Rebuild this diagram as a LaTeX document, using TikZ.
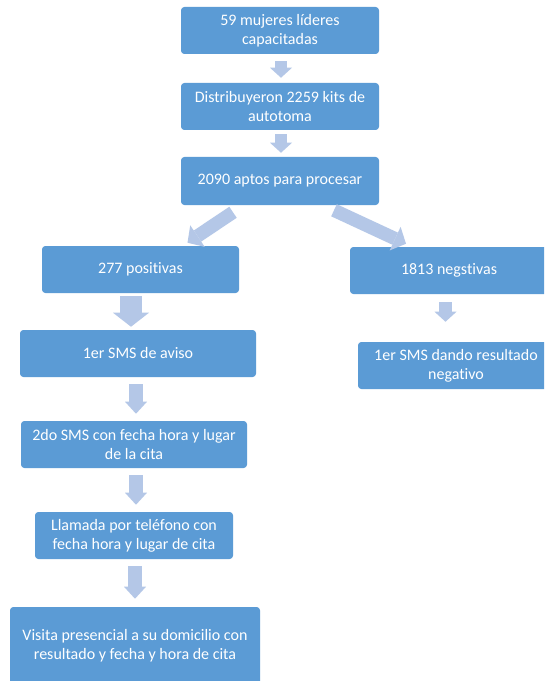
\documentclass[tikz,border=0pt]{standalone}
\usepackage{fontspec}
\setmainfont{Carlito}[Ligatures=NoCommon]
\usetikzlibrary{arrows.meta,calc}
\definecolor{boxblue}{HTML}{5B9BD5}
\definecolor{arrowblue}{HTML}{B4C7E7}
\tikzset{
  x=0.75pt, y=-0.75pt,
  box/.style={fill=boxblue, rounded corners=2.5pt, text=white, align=center,
    font=\fontsize{12pt}{14.4pt}\selectfont, inner sep=0pt},
  barrow/.style={draw=arrowblue, line width=9.5pt,
    -{Triangle[width=16.5pt,length=7.5pt,line width=0pt,fill=arrowblue]}},
  tallarrow/.style={draw=arrowblue, line width=10.5pt,
    -{Triangle[width=16.5pt,length=9pt,line width=0pt,fill=arrowblue]}},
  bigarrow/.style={draw=arrowblue, line width=17pt,
    -{Triangle[width=27pt,length=10.5pt,line width=0pt,fill=arrowblue]}},
  diagarrow/.style={draw=arrowblue, line width=10pt,
    -{Triangle[width=19.5pt,length=9pt,line width=0pt,fill=arrowblue]}},
}
\begin{document}
\begin{tikzpicture}
\clip (0,0) rectangle (544,681);
\fill[white] (0,0) rectangle (544,681);
\node[box, minimum width=198*0.75pt, minimum height=47*0.75pt] (b1) at (280,30.5) {59 mujeres líderes\\capacitadas};
\node[box, minimum width=198*0.75pt, minimum height=47*0.75pt] (b2) at (280,106.5) {Distribuyeron 2259 kits de\\autotoma};
\node[box, minimum width=198*0.75pt, minimum height=48*0.75pt] (b3) at (280,181) {2090 aptos para procesar};
\node[box, minimum width=197*0.75pt, minimum height=47*0.75pt] (pos) at (140.5,269.5) {277 positivas};
\node[box, minimum width=198*0.75pt, minimum height=47*0.75pt] (neg) at (449,270.5) {1813 negstivas};
\node[box, minimum width=196*0.75pt, minimum height=47*0.75pt] (negsms) at (456,365.5) {1er SMS dando resultado\\negativo};
\node[box, minimum width=236*0.75pt, minimum height=47*0.75pt] (sms1) at (138,353.5) {1er SMS de aviso};
\node[box, minimum width=226*0.75pt, minimum height=47*0.75pt] (sms2) at (134,444.5) {2do SMS con fecha hora y lugar\\de la cita};
\node[box, minimum width=198*0.75pt, minimum height=47*0.75pt] (call) at (134,535.5) {Llamada por teléfono con\\fecha hora y lugar de cita};
\node[box, minimum width=250*0.75pt, minimum height=78*0.75pt] (visit) at (135,646) {Visita presencial a su domicilio con\\resultado y fecha y hora de cita};

\draw[barrow] ($(b1.south)+(1,7)$) -- ($(b2.north)+(1,-5)$);
\draw[barrow] ($(b2.south)+(1,4)$) -- ($(b3.north)+(1,-4)$);
\draw[diagarrow] ($(b3.south)+(-47,7)$) -- ($(pos.north)+(47,-3)$);
\draw[diagarrow] ($(b3.south)+(54,5)$) -- ($(neg.north)+(-43,-3)$);
\draw[bigarrow] ($(pos.south)+(-9.5,3)$) -- ($(sms1.north)+(-7,-3)$);
\draw[barrow] ($(neg.south)+(-3.5,8)$) -- ($(negsms.north)+(-10.5,-20)$);
\draw[tallarrow] ($(sms1.south)+(-2,7)$) -- ($(sms2.north)+(2,-7)$);
\draw[tallarrow] ($(sms2.south)+(2,7)$) -- ($(call.north)+(2,-7)$);
\draw[tallarrow] ($(call.south)+(1,7)$) -- ($(visit.north)+(0,-8)$);
\end{tikzpicture}
\end{document}
